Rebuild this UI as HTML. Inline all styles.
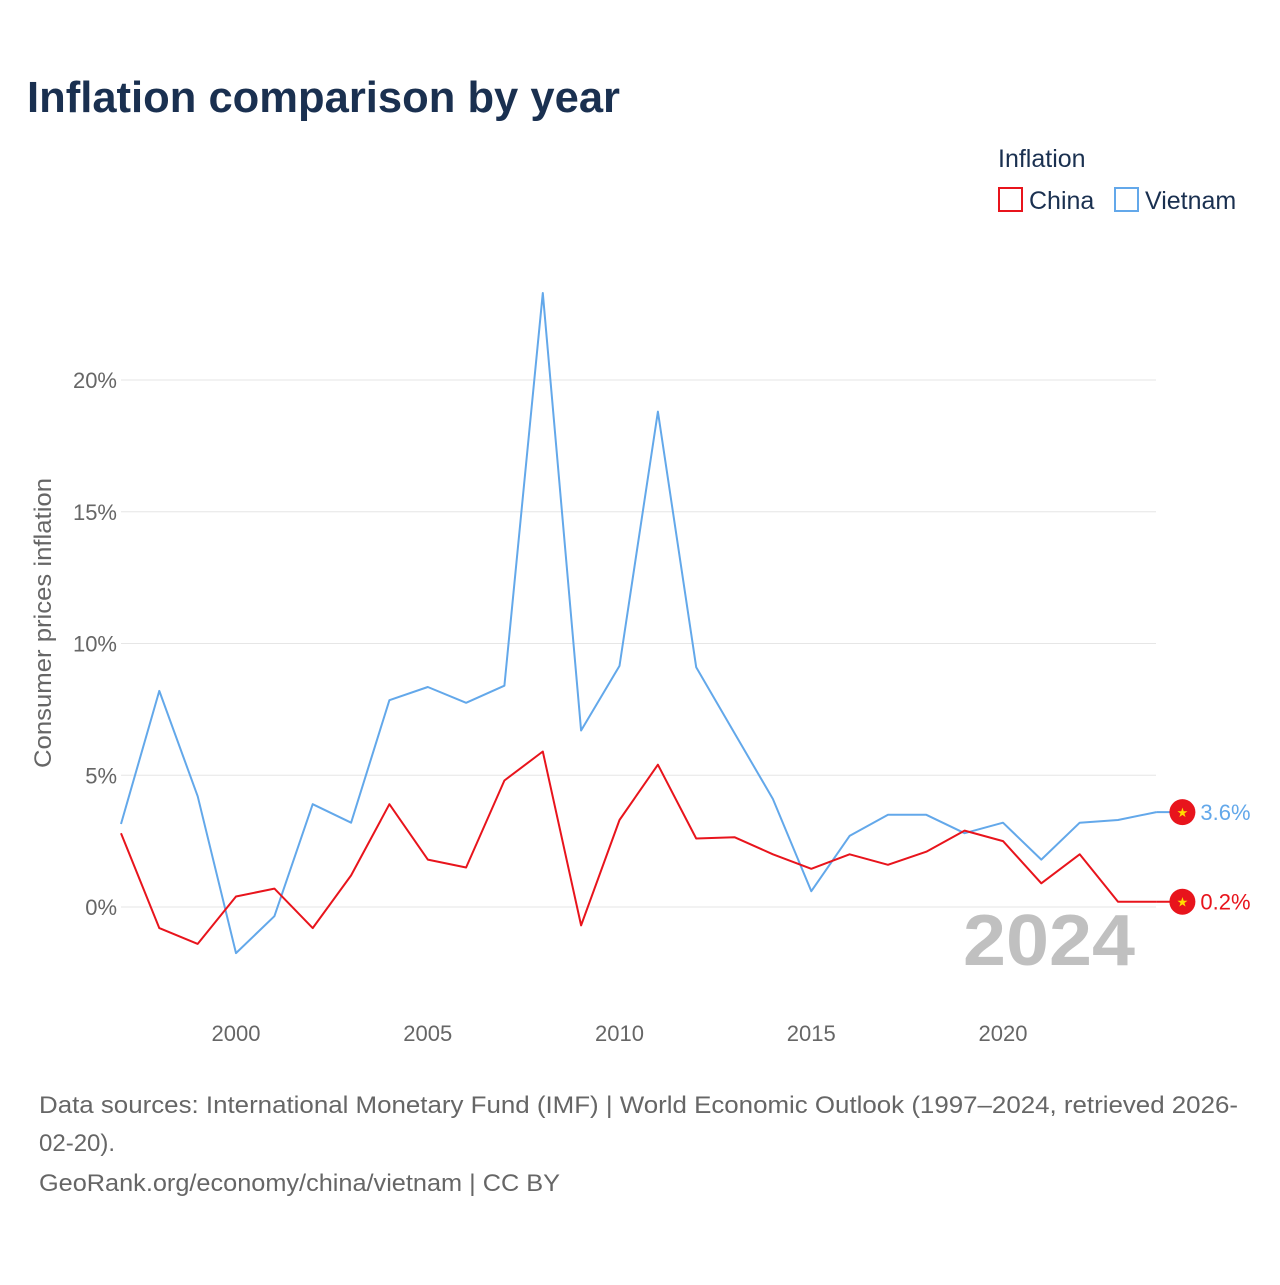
<!DOCTYPE html>
<html><head><meta charset="utf-8">
<style>
body{margin:0;background:#fff;font-family:"Liberation Sans",sans-serif;}
svg text{font-family:"Liberation Sans",sans-serif;}
</style></head>
<body>
<svg id="chart" width="1280" height="1280" viewBox="0 0 1280 1280" xmlns="http://www.w3.org/2000/svg">
<rect width="1280" height="1280" fill="#fff"/>
<text x="27" y="112" font-size="44" font-weight="bold" fill="#1a3050" textLength="593" lengthAdjust="spacingAndGlyphs">Inflation comparison by year</text>
<text x="998" y="167" font-size="25" fill="#1a3050">Inflation</text>
<g>
<rect x="999" y="188" width="23" height="23" fill="none" stroke="#e8141c" stroke-width="2"/>
<text x="1029" y="209" font-size="25" fill="#1a3050">China</text></g>
<g>
<rect x="1115" y="188" width="23" height="23" fill="none" stroke="#63a8ea" stroke-width="2"/>
<text x="1145" y="209" font-size="25" fill="#1a3050">Vietnam</text></g>
<text transform="translate(51,623) rotate(-90)" text-anchor="middle" font-size="24" fill="#666" textLength="290" lengthAdjust="spacingAndGlyphs">Consumer prices inflation</text>
<g id="grid"></g><g id="yticks"></g><g id="xticks"></g><g id="lines"></g>
<text x="963" y="965" font-size="72" font-weight="bold" fill="#c0c0c0" textLength="172" lengthAdjust="spacingAndGlyphs">2024</text>
<g id="ends"></g>
<text font-size="24" fill="#666">
<tspan x="39" y="1113" textLength="1199" lengthAdjust="spacingAndGlyphs">Data sources: International Monetary Fund (IMF) | World Economic Outlook (1997–2024, retrieved 2026-</tspan>
<tspan x="39" y="1151">02-20).</tspan>
<tspan x="39" y="1191" textLength="521" lengthAdjust="spacingAndGlyphs">GeoRank.org/economy/china/vietnam | CC BY</tspan></text>
</svg>
<script>
const years=[1997,1998,1999,2000,2001,2002,2003,2004,2005,2006,2007,2008,2009,2010,2011,2012,2013,2014,2015,2016,2017,2018,2019,2020,2021,2022,2023,2024];
const vietnam=[3.15,8.2,4.2,-1.75,-0.35,3.9,3.2,7.85,8.35,7.75,8.4,23.3,6.7,9.15,18.8,9.1,6.6,4.1,0.6,2.7,3.5,3.5,2.8,3.2,1.8,3.2,3.3,3.6];
const china=[2.8,-0.8,-1.4,0.4,0.7,-0.8,1.2,3.9,1.8,1.5,4.8,5.9,-0.7,3.3,5.4,2.6,2.65,2.0,1.45,2.0,1.6,2.1,2.9,2.5,0.9,2.0,0.2,0.2];
const yTicks=[0,5,10,15,20];
const xTicks=[2000,2005,2010,2015,2020];
const NS="http://www.w3.org/2000/svg";
const x=v=>236+(v-2000)*(1003-236)/20;
const y=v=>907-v*(907-380)/20;
function mk(tag,attrs,parent,text){const e=document.createElementNS(NS,tag);for(const k in attrs)e.setAttribute(k,attrs[k]);if(text!==undefined)e.textContent=text;document.getElementById(parent).appendChild(e);return e;}
yTicks.forEach(t=>{
 const l=mk('line',{x1:121,x2:1156,y1:y(t),y2:y(t),stroke:'#e6e6e6','stroke-width':1},'grid');
 
 
 const tx=mk('text',{x:117,y:y(t)+8,'text-anchor':'end','font-size':22,fill:'#666'},'yticks',t+'%');
 
 
});
xTicks.forEach(t=>{
 const tx=mk('text',{x:x(t),y:1041,'text-anchor':'middle','font-size':22,fill:'#666'},'xticks',String(t));
 
 
});
function line(vals,color,name){
 const d=vals.map((v,i)=>(i?'L':'M')+x(years[i]).toFixed(1)+','+y(v).toFixed(1)).join('');
 const p=mk('path',{d:d,fill:'none',stroke:color,'stroke-width':2,'stroke-linejoin':'round'},'lines');
 
 
}
line(vietnam,'#63a8ea','vietnam-line');
line(china,'#e8141c','china-line');
function end(vals,color,name){
 const v=vals[vals.length-1];const cy=y(v);const cx=x(years[years.length-1]);
 const l=mk('line',{x1:cx,x2:cx+26,y1:cy,y2:cy,stroke:color,'stroke-width':2},'ends');
 
 
 const c=mk('circle',{cx:cx+26,cy:cy,r:13,fill:'#e8141c'},'ends');
 
 
 const s=mk('text',{x:cx+26,y:cy+5,'text-anchor':'middle','font-size':13,fill:'#ffde00'},'ends','★');
 
 
 const t=mk('text',{x:cx+44,y:cy+8,'font-size':22,fill:color},'ends',v.toFixed(1)+'%');
 
 
}
end(vietnam,'#63a8ea','vietnam');
end(china,'#e8141c','china');
</script>
</body></html>
